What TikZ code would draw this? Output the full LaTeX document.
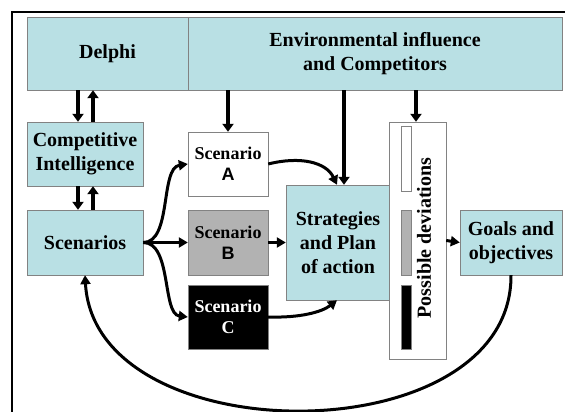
\documentclass[tikz,border=0pt]{standalone}
\usepackage{fontspec}
\setmainfont{Liberation Serif}
\newfontfamily\sansbold{Liberation Sans}
\usetikzlibrary{arrows.meta}

\definecolor{boxblue}{RGB}{185,224,228}
\definecolor{boxgray}{RGB}{178,178,178}
\definecolor{edgegray}{RGB}{130,130,130}

\tikzset{
  block/.style={draw=edgegray, fill=boxblue, inner sep=0pt, align=center,
    font=\fontsize{20}{24}\selectfont\bfseries},
  scenbox/.style={draw=edgegray, inner sep=0pt, align=center,
    minimum width=80pt, minimum height=64pt,
    font=\fontsize{18}{21}\selectfont\bfseries},
  devbar/.style={draw=edgegray, inner sep=0pt, minimum width=10pt},
  bigarrow/.style={-{Triangle[length=8pt,width=11pt]}, line width=4pt},
  curvearrow/.style={-{Triangle[length=9pt,width=10pt]}, line width=3pt},
}

\begin{document}
\begin{tikzpicture}[x=1pt, y=-1pt]

  \useasboundingbox (0,0) rectangle (565,412);
  \draw[line width=1.6pt] (12,412) -- (12,12) -- (565,12);

  % Top row
  \node[block, minimum width=161pt, minimum height=73pt] (delphi) at (107.5,53.5) {Delphi};
  \node[block, minimum width=374pt, minimum height=73pt] (env) at (375,53.5)
    {Environmental influence\\and Competitors};

  % Left column
  \node[block, minimum width=116pt, minimum height=64pt] (ci) at (85,154)
    {Competitive\\Intelligence};
  \node[block, minimum width=116pt, minimum height=65pt] (scen) at (85,242.5) {Scenarios};

  % Scenarios
  \node[scenbox, fill=white] (scA) at (228,164) {Scenario\\{\sansbold A}};
  \node[scenbox, fill=boxgray, minimum height=65pt] (scB) at (228,242.5) {Scenario\\{\sansbold B}};
  \node[scenbox, fill=black, text=white] (scC) at (228,317) {Scenario\\C};

  \node[block, minimum width=104pt, minimum height=115pt] (strat) at (338,242.5)
    {Strategies\\and Plan\\of action};

  % Possible deviations
  \node[draw=edgegray, fill=white, minimum width=57pt, minimum height=237pt, inner sep=0pt]
    (dev) at (417.5,240.5) {};
  \node[devbar, fill=white, minimum height=65pt] (barA) at (406,158.5) {};
  \node[devbar, fill=boxgray, minimum height=65pt] (barB) at (406,242.5) {};
  \node[devbar, fill=black, minimum height=64pt] (barC) at (406,317) {};
  \node[rotate=90, font=\fontsize{20}{24}\selectfont\bfseries] (devtext) at (424,238)
    {Possible deviations};

  \node[block, minimum width=102pt, minimum height=65pt] (goals) at (511,242.5)
    {Goals and\\objectives};

  % Arrows
  \draw[bigarrow] (delphi.south -| 78,0) -- (ci.north -| 78,0);
  \draw[bigarrow] (ci.north -| 93,0) -- (delphi.south -| 93,0);
  \draw[bigarrow] (ci.south -| 78,0) -- (scen.north -| 78,0);
  \draw[bigarrow] (scen.north -| 93,0) -- (ci.south -| 93,0);

  \draw[bigarrow] (env.south -| scA.north) -- (scA.north);
  \draw[bigarrow] (env.south -| 344,0) -- (strat.north -| 344,0);
  \draw[bigarrow] (env.south -| 416,0) -- (dev.north -| 416,0);

  \draw[curvearrow] (scen.east) .. controls (172,242.5) and (160,168) .. (scA.west);
  \draw[curvearrow] (scen.east) -- (scB.west);
  \draw[curvearrow] (scen.east) .. controls (172,242.5) and (162,314) .. (scC.west);

  \draw[curvearrow] (scA.east) .. controls (300,156) and (326,162) .. (strat.north -| 337,0);
  \draw[curvearrow] (scB.east) -- (strat.west);
  \draw[curvearrow] (scC.east) .. controls (300,318) and (322,312) .. (strat.south -| 337,0);

  \draw[curvearrow] (dev.east) -- (goals.west);
  \draw[curvearrow] (goals.south) .. controls (512,455) and (95,455) .. (scen.south);

\end{tikzpicture}
\end{document}
